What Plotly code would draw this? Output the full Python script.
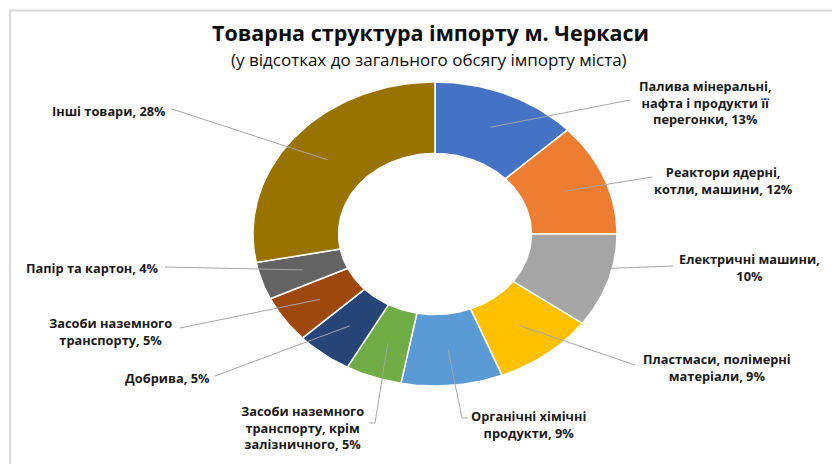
import math
import plotly.graph_objects as go

# ---- data ----
categories = [
    "Палива мінеральні,<br>нафта і продукти її<br>перегонки",
    "Реактори ядерні,<br>котли, машини",
    "Електричні машини,<br>",
    "Пластмаси, полімерні<br>матеріали",
    "Органічні хімічні<br>продукти",
    "Засоби наземного<br>транспорту, крім<br>залізничного",
    "Добрива",
    "Засоби наземного<br>транспорту",
    "Папір та картон",
    "Інші товари",
]
values = [13, 12, 10, 9, 9, 5, 5, 5, 4, 28]
colors = ["#4472C4", "#ED7D31", "#A5A5A5", "#FFC000", "#5B9BD5",
          "#70AD47", "#264478", "#9E480E", "#636363", "#997300"]

title = "Товарна структура імпорту м. Черкаси"
subtitle = "(у відсотках до загального обсягу імпорту міста)"

# ---- layout geometry (pixel space) ----
W, H = 832, 464
CX, CY = 435, 234          # donut centre
RX, RY = 182, 152          # outer radii
HOLE = 0.53
ANCHOR_R = (1 + HOLE) / 2

# label block centres and leader-line tails
label_pos = [(705, 102), (723, 180), (749, 267), (717, 367), (528, 424),
             (302, 427), (167, 378), (110, 331), (92, 268), (109, 111)]
label_tail = [[(630, 100)], [(652, 177)], [(673, 266)], [(635, 365)],
              [(462, 418), (468, 418)], [(375, 423), (369, 423)],
              [(215, 376)], [(180, 328)], [(165, 267)], [(172, 109)]]

def pt(frac_r, t):
    return CX + frac_r * RX * math.sin(t), CY - frac_r * RY * math.cos(t)

fig = go.Figure()
total = sum(values)
cum = 0.0
anchors = []
for v, c in zip(values, colors):
    t0 = 2 * math.pi * cum / total
    t1 = 2 * math.pi * (cum + v) / total
    n = max(8, int(v * 3))
    xs, ys = [], []
    for i in range(n + 1):
        x, y = pt(1.0, t0 + (t1 - t0) * i / n)
        xs.append(x); ys.append(y)
    for i in range(n, -1, -1):
        x, y = pt(HOLE, t0 + (t1 - t0) * i / n)
        xs.append(x); ys.append(y)
    xs.append(xs[0]); ys.append(ys[0])
    fig.add_trace(go.Scatter(x=xs, y=ys, fill="toself", fillcolor=c, mode="lines",
                             line=dict(color="white", width=1.5), hoverinfo="skip",
                             showlegend=False))
    anchors.append(pt(ANCHOR_R, (t0 + t1) / 2))
    cum += v

# leader lines
for a, tail in zip(anchors, label_tail):
    xs = [a[0]] + [p[0] for p in tail]
    ys = [a[1]] + [p[1] for p in tail]
    fig.add_trace(go.Scatter(x=xs, y=ys, mode="lines",
                             line=dict(color="#A6A6A6", width=1), hoverinfo="skip",
                             showlegend=False))

FONT = "Open Sans"
for cat, v, (lx, ly) in zip(categories, values, label_pos):
    sep = "" if cat.endswith("<br>") else ", "
    fig.add_annotation(x=lx, y=ly, xref="x", yref="y", showarrow=False,
                       text=f"<b>{cat}{sep}{v}%</b>", align="center",
                       font=dict(family=FONT, size=12.8, color="#1A1A1A"))

fig.add_annotation(x=430, y=32, xref="x", yref="y", showarrow=False,
                   text=f"<b>{title}</b>",
                   font=dict(family=FONT, size=21.5, color="#0D0D0D"))
fig.add_annotation(x=429, y=59, xref="x", yref="y", showarrow=False,
                   text=subtitle,
                   font=dict(family=FONT, size=17, color="#0D0D0D"))

# frame lines
fig.add_shape(type="line", x0=9, x1=W, y0=10.5, y1=10.5, xref="x", yref="y",
              line=dict(color="#D9D9D9", width=2))
fig.add_shape(type="line", x0=10, x1=10, y0=10, y1=H, xref="x", yref="y",
              line=dict(color="#D9D9D9", width=2))

fig.update_layout(
    width=W, height=H, margin=dict(l=0, r=0, t=0, b=0),
    paper_bgcolor="white", plot_bgcolor="white",
    xaxis=dict(range=[0, W], visible=False, fixedrange=True),
    yaxis=dict(range=[H, 0], visible=False, fixedrange=True),
)
fig.write_html("out.html", config={"displayModeBar": False},
               post_script="document.body.style.margin='0';document.body.style.overflow='hidden';")
